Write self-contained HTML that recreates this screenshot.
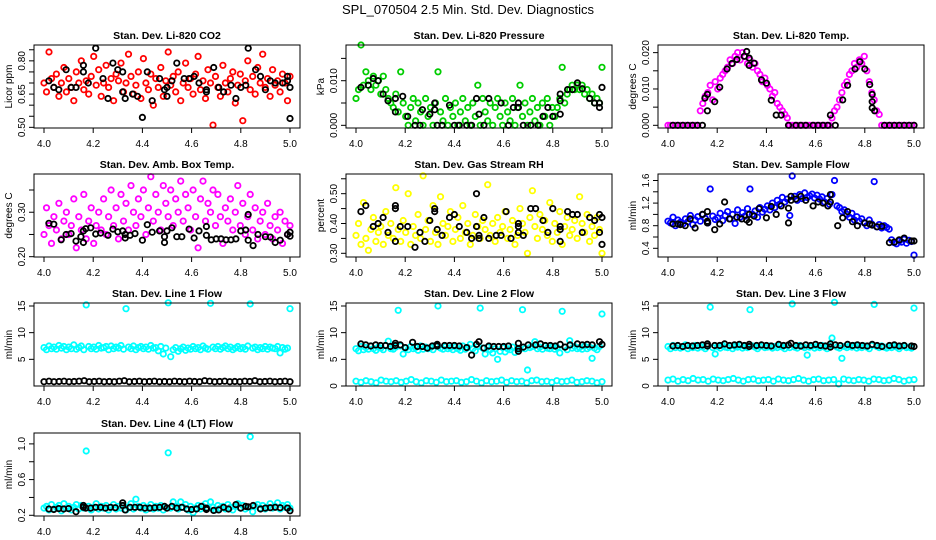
<!DOCTYPE html>
<html><head><meta charset="utf-8"><style>
html,body{margin:0;padding:0;background:#fff;}
svg{display:block;font-family:"Liberation Sans",sans-serif;}
</style></head><body>
<svg id="chart" width="936" height="540" viewBox="0 0 936 540">
<text x="468" y="14" text-anchor="middle" font-size="13">SPL_070504  2.5 Min. Std. Dev. Diagnostics</text>
</svg>
<script>
const xTicks=[4.0,4.2,4.4,4.6,4.8,5.0];
const xTickLabels=["4.0","4.2","4.4","4.6","4.8","5.0"];
const co2Red=[0.70,0.66,0.84,0.72,0.68,0.74,0.64,0.70,0.77,0.66,0.72,0.68,0.62,0.75,0.70,0.80,0.67,0.71,0.65,0.73,0.82,0.69,0.76,0.64,0.70,0.78,0.68,0.72,0.62,0.74,0.71,0.79,0.66,0.70,0.83,0.73,0.65,0.69,0.75,0.63,0.81,0.70,0.67,0.74,0.60,0.72,0.68,0.77,0.64,0.71,0.84,0.69,0.73,0.66,0.75,0.62,0.70,0.79,0.68,0.72,0.65,0.74,0.82,0.67,0.71,0.63,0.76,0.70,0.51,0.73,0.68,0.64,0.78,0.70,0.66,0.72,0.75,0.61,0.69,0.74,0.53,0.71,0.80,0.67,0.73,0.65,0.77,0.70,0.83,0.68,0.72,0.64,0.76,0.69,0.71,0.66,0.74,0.70,0.62,0.73];
const co2Black=[[4.02,0.71],[4.04,0.68],[4.06,0.67],[4.09,0.76],[4.11,0.68],[4.13,0.68],[4.16,0.78],[4.16,0.75],[4.18,0.70],[4.21,0.857],[4.24,0.72],[4.26,0.63],[4.28,0.79],[4.30,0.76],[4.32,0.66],[4.32,0.75],[4.33,0.63],[4.36,0.65],[4.38,0.64],[4.40,0.545],[4.42,0.75],[4.44,0.62],[4.47,0.72],[4.49,0.67],[4.50,0.64],[4.50,0.68],[4.52,0.71],[4.54,0.79],[4.57,0.72],[4.59,0.72],[4.61,0.73],[4.63,0.70],[4.66,0.67],[4.66,0.66],[4.69,0.77],[4.71,0.68],[4.73,0.66],[4.76,0.69],[4.78,0.63],[4.80,0.68],[4.82,0.69],[4.83,0.857],[4.86,0.76],[4.88,0.73],[4.90,0.67],[4.92,0.71],[4.94,0.70],[4.97,0.70],[4.99,0.73],[4.99,0.71],[5.00,0.68],[5.00,0.54]];
const presGreen=[0.006,0.008,0.018,0.009,0.012,0.010,0.008,0.011,0.009,0.010,0.007,0.011,0.008,0.006,0.005,0.004,0.007,0.003,0.012,0.005,0.002,0.000,0.004,0.006,0.001,0.005,0.003,0.000,0.006,0.002,0.004,0.000,0.005,0.012,0.003,0.001,0.006,0.000,0.004,0.002,0.005,0.000,0.003,0.006,0.001,0.004,0.000,0.005,0.002,0.009,0.000,0.006,0.003,0.001,0.005,0.000,0.004,0.006,0.002,0.000,0.005,0.003,0.001,0.006,0.000,0.004,0.009,0.002,0.005,0.000,0.003,0.006,0.001,0.004,0.000,0.005,0.002,0.006,0.000,0.004,0.002,0.004,0.006,0.013,0.005,0.007,0.008,0.009,0.008,0.009,0.008,0.009,0.007,0.008,0.006,0.007,0.005,0.006,0.005,0.013];
const presBlack=[[4.02,0.0085],[4.05,0.009],[4.07,0.0105],[4.09,0.010],[4.11,0.007],[4.13,0.0055],[4.16,0.006],[4.16,0.003],[4.19,0.0065],[4.21,0.002],[4.24,0.000],[4.26,0.000],[4.27,0.0035],[4.30,0.0025],[4.32,0.005],[4.32,0.0035],[4.33,0.000],[4.35,0.000],[4.38,0.0045],[4.40,0.000],[4.42,0.000],[4.45,0.000],[4.47,0.000],[4.49,0.006],[4.50,0.0025],[4.52,0.000],[4.54,0.006],[4.59,0.005],[4.62,0.000],[4.64,0.004],[4.66,0.004],[4.66,0.005],[4.68,0.000],[4.71,0.000],[4.74,0.000],[4.76,0.002],[4.78,0.004],[4.80,0.002],[4.83,0.0055],[4.83,0.007],[4.83,0.0025],[4.86,0.008],[4.88,0.008],[4.90,0.0095],[4.92,0.0082],[4.95,0.006],[4.97,0.005],[4.99,0.005],[4.99,0.004],[5.00,0.0085]];
const tempMagenta=[0,0,0,0,0,0,0,0,0,0,0,0,0,0.004,0.006,0.008,0.009,0.011,0.007,0.012,0.010,0.013,0.014,0.015,0.016,0.018,0.017,0.019,0.020,0.018,0.020,0.019,0.017,0.018,0.016,0.017,0.015,0.014,0.012,0.013,0.011,0.010,0.008,0.009,0.006,0.005,0.004,0.003,0.002,0,0,0,0,0,0,0,0,0,0,0,0,0,0,0,0,0,0.002,0.004,0.005,0.007,0.009,0.011,0.012,0.014,0.015,0.017,0.016,0.018,0.017,0.019,0.015,0.012,0.009,0.007,0.004,0.003,0,0,0,0,0,0,0,0,0,0,0,0,0,0];
const tempBlack=[[4.02,0],[4.04,0],[4.06,0],[4.08,0],[4.10,0],[4.12,0],[4.14,0],[4.15,0.0075],[4.16,0.0085],[4.16,0.004],[4.19,0.0065],[4.21,0.0105],[4.24,0.0155],[4.26,0.017],[4.28,0.0181],[4.31,0.019],[4.32,0.0203],[4.33,0.0185],[4.33,0.0165],[4.35,0.0171],[4.38,0.0125],[4.40,0.0116],[4.42,0.0069],[4.44,0.0028],[4.46,0.0028],[4.49,0],[4.52,0],[4.54,0],[4.56,0],[4.59,0],[4.61,0],[4.63,0],[4.65,0],[4.66,0.0028],[4.68,0],[4.71,0.007],[4.73,0.011],[4.76,0.0155],[4.78,0.0175],[4.80,0.0155],[4.82,0.0112],[4.83,0.0085],[4.83,0.0065],[4.83,0.0048],[4.84,0.004],[4.88,0],[4.90,0],[4.92,0],[4.94,0],[4.96,0],[4.98,0],[5.00,0]];
const ambMagenta=[0.25,0.31,0.27,0.23,0.29,0.26,0.32,0.24,0.28,0.30,0.25,0.27,0.33,0.22,0.29,0.26,0.34,0.24,0.28,0.31,0.23,0.27,0.30,0.26,0.33,0.25,0.29,0.35,0.27,0.31,0.24,0.34,0.28,0.32,0.26,0.36,0.30,0.27,0.33,0.29,0.35,0.25,0.31,0.38,0.28,0.34,0.30,0.26,0.36,0.32,0.29,0.35,0.27,0.33,0.30,0.37,0.28,0.34,0.31,0.26,0.35,0.29,0.22,0.33,0.37,0.28,0.32,0.30,0.35,0.27,0.34,0.29,0.23,0.31,0.28,0.33,0.26,0.30,0.36,0.27,0.32,0.25,0.29,0.34,0.26,0.31,0.24,0.28,0.30,0.25,0.32,0.27,0.24,0.29,0.26,0.30,0.23,0.28,0.25,0.27];
const ambBlack=[[4.02,0.275],[4.04,0.273],[4.07,0.238],[4.09,0.25],[4.11,0.252],[4.13,0.235],[4.15,0.245],[4.16,0.232],[4.16,0.258],[4.17,0.263],[4.19,0.265],[4.21,0.251],[4.23,0.253],[4.26,0.248],[4.28,0.262],[4.30,0.256],[4.32,0.258],[4.33,0.242],[4.33,0.25],[4.35,0.248],[4.37,0.252],[4.40,0.237],[4.42,0.272],[4.44,0.255],[4.47,0.258],[4.49,0.232],[4.49,0.245],[4.50,0.258],[4.52,0.265],[4.54,0.245],[4.56,0.245],[4.59,0.262],[4.61,0.242],[4.63,0.258],[4.66,0.268],[4.66,0.248],[4.68,0.238],[4.70,0.24],[4.72,0.24],[4.74,0.238],[4.76,0.238],[4.78,0.24],[4.80,0.258],[4.82,0.26],[4.83,0.237],[4.83,0.295],[4.85,0.225],[4.87,0.25],[4.90,0.245],[4.92,0.244],[4.94,0.232],[4.96,0.237],[4.99,0.25],[5.00,0.255],[5.00,0.246]];
const rhYellow=[0.36,0.40,0.33,0.47,0.35,0.31,0.38,0.42,0.34,0.37,0.39,0.33,0.44,0.36,0.40,0.35,0.52,0.38,0.34,0.41,0.37,0.50,0.33,0.39,0.36,0.43,0.35,0.56,0.38,0.41,0.34,0.46,0.37,0.33,0.49,0.40,0.36,0.39,0.44,0.34,0.38,0.42,0.35,0.46,0.37,0.40,0.33,0.36,0.43,0.39,0.35,0.41,0.38,0.53,0.36,0.40,0.34,0.42,0.37,0.39,0.44,0.35,0.38,0.41,0.33,0.36,0.45,0.40,0.37,0.30,0.42,0.51,0.39,0.35,0.43,0.38,0.41,0.36,0.47,0.34,0.40,0.37,0.44,0.33,0.39,0.42,0.36,0.38,0.41,0.35,0.49,0.40,0.37,0.43,0.34,0.39,0.36,0.42,0.38,0.30];
const rhBlack=[[4.02,0.44],[4.04,0.46],[4.07,0.39],[4.09,0.40],[4.11,0.42],[4.13,0.37],[4.16,0.45],[4.16,0.34],[4.16,0.46],[4.18,0.39],[4.21,0.39],[4.24,0.32],[4.26,0.37],[4.28,0.34],[4.30,0.41],[4.32,0.45],[4.32,0.44],[4.33,0.38],[4.35,0.36],[4.38,0.42],[4.40,0.43],[4.42,0.39],[4.45,0.37],[4.47,0.35],[4.49,0.39],[4.50,0.36],[4.50,0.35],[4.49,0.50],[4.52,0.42],[4.54,0.35],[4.57,0.36],[4.59,0.36],[4.61,0.44],[4.63,0.35],[4.66,0.40],[4.66,0.39],[4.66,0.37],[4.68,0.36],[4.71,0.45],[4.73,0.45],[4.76,0.41],[4.78,0.37],[4.80,0.45],[4.83,0.39],[4.83,0.38],[4.83,0.34],[4.86,0.44],[4.88,0.43],[4.90,0.43],[4.92,0.37],[4.95,0.42],[4.97,0.41],[4.99,0.43],[4.99,0.37],[5.00,0.42],[5.00,0.33]];
const flowBlue=[0.88,0.85,0.95,0.80,0.90,0.86,0.83,0.92,0.87,0.98,0.82,0.90,0.96,0.88,1.00,0.93,0.85,1.45,0.97,0.91,0.94,1.02,0.89,0.98,1.05,0.92,1.00,0.84,1.08,0.95,1.03,0.97,1.10,1.45,1.00,1.06,0.95,1.12,1.04,1.09,1.15,1.08,1.20,1.12,1.25,1.18,1.30,1.22,1.27,0.98,1.68,1.32,1.25,1.35,1.28,1.38,1.30,1.33,1.36,1.29,1.34,1.27,1.31,1.22,1.28,1.18,1.35,1.60,1.15,1.12,1.05,1.08,1.00,0.95,1.02,0.90,0.96,0.88,0.92,0.85,0.80,0.90,0.83,1.58,0.78,0.82,0.76,0.80,0.77,0.74,0.55,0.50,0.48,0.53,0.51,0.56,0.49,0.54,0.52,0.28];
const flowBlack=[[4.02,0.83],[4.04,0.83],[4.05,0.82],[4.07,0.80],[4.09,0.92],[4.11,0.76],[4.14,1.0],[4.16,1.05],[4.16,0.88],[4.16,0.85],[4.19,0.73],[4.21,0.83],[4.23,1.22],[4.25,0.92],[4.28,0.95],[4.30,0.92],[4.32,0.90],[4.33,1.0],[4.33,0.86],[4.35,0.97],[4.37,1.10],[4.40,0.94],[4.42,1.14],[4.44,1.00],[4.46,1.15],[4.49,1.11],[4.49,0.85],[4.50,1.25],[4.50,1.32],[4.52,1.27],[4.54,1.32],[4.56,1.25],[4.59,1.15],[4.61,1.22],[4.63,1.20],[4.65,1.15],[4.66,1.22],[4.66,1.35],[4.69,0.80],[4.71,0.94],[4.73,1.05],[4.75,0.87],[4.77,0.80],[4.80,0.85],[4.82,0.83],[4.83,0.81],[4.85,0.78],[4.87,0.79],[4.90,0.50],[4.92,0.51],[4.94,0.55],[4.96,0.58],[4.99,0.53],[5.00,0.53]];
const line1Cyan=[7.2,6.8,7.5,7.0,7.3,6.9,7.6,7.1,7.4,6.8,7.3,7.0,7.7,6.9,7.2,7.5,6.8,15.2,7.4,7.0,7.3,6.9,7.6,7.1,7.2,7.4,6.8,7.5,7.0,7.3,7.1,7.6,6.9,14.5,7.3,7.0,7.5,6.8,7.2,7.4,7.0,7.3,6.9,7.6,7.1,7.2,6.6,7.4,6.0,7.1,15.6,5.5,6.8,7.2,6.5,7.0,7.3,6.7,7.1,6.9,7.4,7.0,7.2,6.8,7.5,7.1,6.9,15.5,7.3,7.0,7.4,6.9,7.2,7.5,7.0,7.3,6.8,7.1,7.4,7.0,7.2,6.9,7.5,15.4,7.1,7.3,6.8,7.2,7.0,7.4,6.9,7.3,7.1,7.0,7.4,6.2,7.2,6.9,7.1,14.5];
const line1Black=[0.8,0.9,0.8,0.85,0.9,0.8,0.85,0.9,1.0,0.8,0.85,0.9,0.8,0.85,0.8,0.9,1.0,0.8,0.85,0.9,0.8,0.85,0.9,0.8,0.85,0.8,0.9,0.85,0.8,0.9,0.85,0.8,1.0,0.9,0.8,0.85,0.9,0.8,0.85,0.8,0.9,0.85,1.0,0.8,0.85,0.9,0.8,0.85,0.9,0.8];
const line2Cyan=[7.0,6.6,7.4,6.8,7.2,6.9,7.5,7.0,6.7,7.3,7.1,6.8,7.6,8.4,7.0,6.9,7.3,14.2,7.5,6.0,7.1,6.8,7.4,7.0,7.2,6.7,7.5,6.9,7.3,7.0,7.2,6.8,7.6,15.0,7.1,6.9,7.4,7.0,7.2,6.8,7.3,7.0,6.7,7.5,6.9,7.2,7.8,7.0,6.6,7.4,14.6,7.1,6.0,7.3,6.8,6.2,7.0,5.0,6.5,7.2,6.4,7.0,6.8,7.3,6.3,7.1,6.9,14.3,7.0,3.0,7.2,7.4,8.3,7.0,7.3,6.9,7.5,7.1,7.0,7.4,6.9,7.2,6.2,14.0,7.3,6.8,8.5,7.1,7.4,7.0,7.2,6.9,7.5,7.0,7.3,5.2,7.1,6.8,7.4,13.5];
const line2Low=[0.9,0.7,1.0,0.8,0.6,1.1,0.9,0.8,1.0,0.7,0.9,1.2,0.8,0.6,1.0,0.9,0.7,1.1,0.8,0.9,1.0,0.7,0.8,1.2,0.9,0.6,1.0,0.8,0.9,1.1,0.7,1.0,0.8,0.9,0.6,1.0,1.1,0.8,0.9,0.7,1.0,0.8,0.9,1.1,0.7,0.8,1.0,0.9,0.6,0.8];
const line2Black=[[4.02,7.9],[4.04,7.7],[4.06,7.5],[4.08,7.7],[4.10,7.6],[4.12,7.6],[4.14,7.4],[4.16,7.6],[4.16,8.0],[4.18,7.7],[4.20,7.2],[4.23,8.2],[4.25,7.4],[4.27,7.4],[4.29,7.1],[4.31,7.5],[4.33,7.8],[4.33,7.5],[4.36,7.6],[4.38,7.6],[4.40,7.6],[4.42,7.5],[4.45,7.2],[4.47,5.8],[4.49,7.8],[4.50,8.3],[4.52,7.1],[4.54,7.5],[4.56,7.4],[4.58,7.4],[4.60,7.4],[4.62,7.5],[4.66,6.5],[4.66,7.0],[4.66,8.0],[4.68,7.3],[4.70,7.7],[4.73,7.7],[4.75,7.9],[4.77,7.6],[4.79,7.6],[4.81,7.5],[4.83,7.8],[4.85,7.3],[4.87,7.7],[4.90,7.9],[4.92,7.7],[4.94,7.8],[4.96,7.7],[4.99,8.3],[5.00,7.8]];
const line3Cyan=[7.4,7.0,7.6,7.2,7.5,7.1,7.3,7.7,7.0,7.4,7.2,7.6,7.1,7.4,7.3,7.0,7.5,14.8,7.2,6.0,7.4,7.1,7.6,7.3,7.2,7.5,7.0,7.4,7.3,7.6,7.1,7.4,7.2,14.3,7.5,7.3,7.0,7.4,7.6,7.2,7.3,7.5,7.1,7.4,7.2,7.6,7.3,7.0,7.5,7.2,15.4,7.3,7.1,7.6,7.4,7.2,5.8,7.3,7.5,7.1,7.4,7.2,7.6,7.3,7.0,7.5,9.0,15.7,7.3,7.1,5.2,7.4,7.2,7.5,7.3,7.6,7.1,7.4,7.2,7.5,7.3,7.0,7.6,15.3,7.4,7.2,7.5,7.3,7.1,7.4,7.2,7.5,7.3,7.0,7.4,7.6,7.2,7.3,7.1,14.6];
const line3Low=[1.1,1.3,0.9,1.2,1.0,1.4,1.1,1.2,0.9,1.3,1.1,1.0,1.2,1.4,1.1,0.9,1.2,1.3,1.0,1.1,1.2,0.9,1.3,1.1,1.0,1.2,1.4,1.1,0.9,1.2,1.3,1.0,1.1,1.2,0.4,1.3,1.1,1.0,1.2,1.1,0.9,1.3,1.2,1.0,1.1,1.4,1.2,0.9,1.1,1.2];
const line3Black=[[4.02,7.5],[4.04,7.6],[4.06,7.4],[4.08,7.6],[4.10,7.5],[4.12,7.6],[4.14,7.7],[4.16,7.9],[4.16,7.5],[4.19,7.6],[4.21,7.6],[4.23,7.9],[4.25,7.6],[4.27,7.7],[4.29,7.8],[4.31,7.6],[4.33,7.8],[4.33,7.4],[4.36,7.6],[4.38,7.7],[4.40,7.6],[4.42,7.5],[4.45,7.8],[4.47,7.6],[4.49,7.7],[4.50,8.0],[4.52,7.6],[4.54,7.5],[4.56,7.7],[4.58,7.6],[4.60,7.8],[4.62,7.6],[4.64,7.5],[4.66,7.9],[4.66,7.3],[4.68,7.7],[4.70,7.6],[4.73,7.8],[4.75,7.6],[4.77,7.7],[4.79,7.6],[4.81,7.5],[4.83,7.8],[4.85,7.6],[4.87,7.4],[4.90,7.6],[4.92,7.7],[4.94,7.5],[4.96,7.6],[4.99,7.5],[5.00,7.4]];
const line4Cyan=[0.28,0.30,0.26,0.32,0.27,0.29,0.31,0.25,0.33,0.28,0.30,0.26,0.29,0.32,0.27,0.31,0.28,0.92,0.30,0.26,0.29,0.33,0.27,0.30,0.28,0.31,0.26,0.29,0.32,0.27,0.30,0.28,0.31,0.26,0.29,0.33,0.27,0.38,0.30,0.28,0.31,0.26,0.29,0.32,0.27,0.30,0.28,0.31,0.26,0.29,0.90,0.28,0.35,0.30,0.27,0.35,0.29,0.32,0.26,0.30,0.23,0.28,0.31,0.27,0.30,0.33,0.28,0.35,0.29,0.26,0.31,0.28,0.30,0.27,0.32,0.29,0.26,0.30,0.33,0.28,0.31,0.27,0.29,1.08,0.24,0.30,0.32,0.28,0.31,0.27,0.29,0.33,0.28,0.30,0.34,0.27,0.31,0.29,0.32,0.28];
const line4Black=[[4.02,0.27],[4.04,0.265],[4.06,0.275],[4.08,0.27],[4.10,0.275],[4.13,0.24],[4.16,0.29],[4.16,0.31],[4.17,0.28],[4.19,0.28],[4.21,0.29],[4.23,0.29],[4.25,0.28],[4.27,0.29],[4.29,0.285],[4.32,0.34],[4.32,0.31],[4.33,0.26],[4.35,0.29],[4.37,0.29],[4.39,0.29],[4.41,0.28],[4.43,0.28],[4.45,0.285],[4.47,0.29],[4.49,0.30],[4.50,0.28],[4.52,0.30],[4.54,0.28],[4.56,0.29],[4.58,0.27],[4.60,0.265],[4.62,0.27],[4.64,0.30],[4.66,0.28],[4.66,0.265],[4.69,0.255],[4.71,0.26],[4.73,0.29],[4.75,0.27],[4.78,0.32],[4.80,0.28],[4.82,0.30],[4.83,0.295],[4.85,0.31],[4.88,0.27],[4.90,0.28],[4.92,0.285],[4.94,0.29],[4.96,0.285],[4.99,0.28],[5.00,0.25]];

const panels=[
 {id:"co2",title:"Stan. Dev. Li-820 CO2",ylab:"Licor ppm",col:0,row:0,lo:0.497,hi:0.8715,ticks:[0.50,0.55,0.60,0.65,0.70,0.75,0.80,0.85],labels:[[0.50,"0.50"],[0.65,"0.65"],[0.80,"0.80"]],series:[[co2Red,"#ff0000"],[co2Black,"#000"]]},
 {id:"pressure",title:"Stan. Dev. Li-820 Pressure",ylab:"kPa",col:1,row:0,lo:-0.0006,hi:0.0180,ticks:[0,0.005,0.010,0.015],labels:[[0,"0.000"],[0.010,"0.010"]],series:[[presGreen,"#00cd00"],[presBlack,"#000"]]},
 {id:"temp",title:"Stan. Dev. Li-820 Temp.",ylab:"degrees C",col:2,row:0,lo:-0.00074,hi:0.0221,ticks:[0,0.005,0.010,0.015,0.020],labels:[[0,"0.000"],[0.010,"0.010"],[0.020,"0.020"]],series:[[tempMagenta,"#ff00ff"],[tempBlack,"#000"]]},
 {id:"amb-box",title:"Stan. Dev. Amb. Box Temp.",ylab:"degrees C",col:0,row:1,lo:0.1993,hi:0.386,ticks:[0.20,0.25,0.30,0.35],labels:[[0.20,"0.20"],[0.30,"0.30"]],series:[[ambMagenta,"#ff00ff"],[ambBlack,"#000"]]},
 {id:"rh",title:"Stan. Dev. Gas Stream RH",ylab:"percent",col:1,row:1,lo:0.2876,hi:0.566,ticks:[0.30,0.35,0.40,0.45,0.50,0.55],labels:[[0.30,"0.30"],[0.40,"0.40"],[0.50,"0.50"]],series:[[rhYellow,"#ffff00"],[rhBlack,"#000"]]},
 {id:"sample-flow",title:"Stan. Dev. Sample Flow",ylab:"ml/min",col:2,row:1,lo:0.246,hi:1.715,ticks:[0.4,0.6,0.8,1.0,1.2,1.4,1.6],labels:[[0.4,"0.4"],[0.8,"0.8"],[1.2,"1.2"],[1.6,"1.6"]],series:[[flowBlue,"#0000ff"],[flowBlack,"#000"]]},
 {id:"line1",title:"Stan. Dev. Line 1 Flow",ylab:"ml/min",col:0,row:2,lo:0,hi:15.56,ticks:[5,10,15],labels:[[5,"5"],[10,"10"],[15,"15"]],series:[[line1Cyan,"#00ffff"],[line1Black,"#000"]]},
 {id:"line2",title:"Stan. Dev. Line 2 Flow",ylab:"ml/min",col:1,row:2,lo:0,hi:15.56,ticks:[0,5,10,15],labels:[[0,"0"],[5,"5"],[10,"10"],[15,"15"]],series:[[line2Cyan,"#00ffff"],[line2Low,"#00ffff"],[line2Black,"#000"]]},
 {id:"line3",title:"Stan. Dev. Line 3 Flow",ylab:"ml/min",col:2,row:2,lo:0,hi:15.56,ticks:[0,5,10,15],labels:[[0,"0"],[5,"5"],[10,"10"],[15,"15"]],series:[[line3Cyan,"#00ffff"],[line3Low,"#00ffff"],[line3Black,"#000"]]},
 {id:"line4",title:"Stan. Dev. Line 4 (LT) Flow",ylab:"ml/min",col:0,row:3,lo:0.192,hi:1.122,ticks:[0.2,0.4,0.6,0.8,1.0],labels:[[0.2,"0.2"],[0.6,"0.6"],[1.0,"1.0"]],series:[[line4Cyan,"#00ffff"],[line4Black,"#000"]]}
];
const colLeft=[34,346,658], rowTop=[45,174,303,433], PW=266, PH=83;
const NS="http://www.w3.org/2000/svg";
const svg=document.getElementById("chart");
function mk(tag,attrs,parent){const e=document.createElementNS(NS,tag);for(const k in attrs)e.setAttribute(k,attrs[k]);(parent||svg).appendChild(e);return e;}
panels.forEach(p=>{
  const L=colLeft[p.col], T=rowTop[p.row], B=T+PH;
  const xs=v=>L+10+(v-4)*246;
  const ys=v=>B-(v-p.lo)/(p.hi-p.lo)*PH;
  const g=mk("g",{});
  
  
  const t=mk("text",{x:L+PW/2,y:T-6,"text-anchor":"middle","font-size":"10.5","font-weight":"bold"},g);
  t.textContent=p.title;
  
  
  const yl=mk("text",{x:0,y:0,transform:`translate(${L-22},${T+PH/2}) rotate(-90)`,"text-anchor":"middle","font-size":"10"},g);
  yl.textContent=p.ylab;
  
  
  p.series.forEach((s,si)=>{
    const arr=s[0], col=s[1];
    const sg=mk("g",{fill:"none",stroke:col,"stroke-width":"1.8"},g);
    
    
    arr.forEach((d,i)=>{
      let xv,yv;
      if(Array.isArray(d)){xv=d[0];yv=d[1];}else{xv=4+i/(arr.length-1);yv=d;}
      const c=mk("circle",{cx:xs(xv).toFixed(1),cy:ys(yv).toFixed(1),r:"2.7"},sg);
      
      
    });
  });
  const box=mk("rect",{x:L,y:T,width:PW,height:PH,fill:"none",stroke:"#000","stroke-width":"1"},g);
  
  
  xTicks.forEach((v,i)=>{
    mk("line",{x1:xs(v),x2:xs(v),y1:B,y2:B+5,stroke:"#000"},g);
    const tl=mk("text",{x:xs(v),y:B+19,"text-anchor":"middle","font-size":"10"},g);
    tl.textContent=xTickLabels[i];
    
    
  });
  p.ticks.forEach(v=>{mk("line",{x1:L-5,x2:L,y1:ys(v),y2:ys(v),stroke:"#000"},g);});
  p.labels.forEach(l=>{
    const tl=mk("text",{x:0,y:0,transform:`translate(${L-9},${ys(l[0])}) rotate(-90)`,"text-anchor":"middle","font-size":"10"},g);
    tl.textContent=l[1];
    
    
  });
});
</script>
</body></html>
